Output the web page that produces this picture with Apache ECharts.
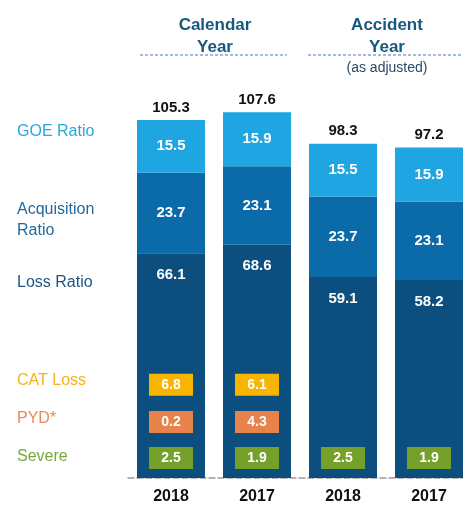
<!DOCTYPE html>
<html><head><meta charset="utf-8">
<script src="https://cdn.jsdelivr.net/npm/echarts@6/dist/echarts.min.js"></script>
<style>html,body{margin:0;padding:0;background:#fff;overflow:hidden}#c{width:472px;height:508px}</style>
</head><body><div id="c"></div>
<script>
const years = ['2018', '2017', '2018', '2017'];
const lossRatio = [66.1, 68.6, 59.1, 58.2];
const acqRatio = [23.7, 23.1, 23.7, 23.1];
const goeRatio = [15.5, 15.9, 15.5, 15.9];
const totals = [105.3, 107.6, 98.3, 97.2];
const catLoss = [6.8, 6.1, null, null];
const pyd = [0.2, 4.3, null, null];
const severe = [2.5, 1.9, 2.5, 1.9];

const FONT = 'Liberation Sans';
const chart = echarts.init(document.getElementById('c'), null, {renderer: 'canvas'});

function boxSeries(name, vals, rowY, color) {
  return {
    name, type: 'scatter', symbol: 'rect', symbolSize: [44, 22],
    itemStyle: {color: color, opacity: 1},
    z: 5,
    data: vals.map((v, i) => v == null ? null : [i, rowY, v]).filter(d => d),
    label: {show: true, position: 'inside', color: '#fff', fontWeight: 'bold', fontSize: 14, fontFamily: FONT,
      formatter: p => p.value[2].toFixed(1)}
  };
}
const segLabel = {show: true, color: '#fff', fontWeight: 'bold', fontSize: 15, fontFamily: FONT, formatter: p => p.value.toFixed(1)};
function leftLabel(text, y, color) {
  return {type: 'text', x: 17, y: y, style: {text, fill: color, font: '16px ' + FONT, verticalAlign: 'middle', lineHeight: 21}};
}

chart.setOption({
  animation: false,
  grid: {left: 128, right: 0, top: 70, bottom: 30},
  xAxis: {
    type: 'category', data: years,
    axisLine: {lineStyle: {color: '#9a9a9a', type: 'dashed', width: 1.5}},
    axisTick: {show: false},
    axisLabel: {color: '#111', fontWeight: 'bold', fontSize: 16, fontFamily: FONT, margin: 11}
  },
  yAxis: {type: 'value', min: 0, max: 120, show: false, splitLine: {show: false}},
  series: [
    {name: 'Loss Ratio', type: 'bar', stack: 't', barWidth: 68, data: lossRatio,
      itemStyle: {color: '#0c4f7f'}, label: Object.assign({position: 'insideTop', distance: 14}, segLabel)},
    {name: 'Acquisition Ratio', type: 'bar', stack: 't', data: acqRatio,
      itemStyle: {color: '#0b6aa8'}, label: Object.assign({position: 'inside'}, segLabel)},
    {name: 'GOE Ratio', type: 'bar', stack: 't', data: goeRatio,
      itemStyle: {color: '#1ea5e2'}, label: Object.assign({position: 'inside'}, segLabel)},
    {name: 'Total', type: 'bar', stack: 't', data: totals.map(() => 0),
      itemStyle: {color: 'transparent'},
      label: {show: true, position: 'top', distance: 5, color: '#111', fontWeight: 'bold', fontSize: 15, fontFamily: FONT,
        formatter: p => totals[p.dataIndex].toFixed(1)}},
    boxSeries('CAT Loss', catLoss, 27.4, '#f7b500'),
    boxSeries('PYD*', pyd, 16.5, '#e8834b'),
    boxSeries('Severe', severe, 5.9, '#75a12b')
  ],
  graphic: [
    leftLabel('GOE Ratio', 132, '#2aa6df'),
    leftLabel('Acquisition\nRatio', 220, '#1f6a9f'),
    leftLabel('Loss Ratio', 283, '#1c5584'),
    leftLabel('CAT Loss', 381, '#f5b21c'),
    leftLabel('PYD*', 419, '#e98a5a'),
    leftLabel('Severe', 457, '#78a63a'),
    {type: 'text', x: 215, y: 36, style: {text: 'Calendar\nYear', fill: '#17587f', font: 'bold 17px ' + FONT, align: 'center', verticalAlign: 'middle', lineHeight: 22}},
    {type: 'text', x: 387, y: 36, style: {text: 'Accident\nYear', fill: '#17587f', font: 'bold 17px ' + FONT, align: 'center', verticalAlign: 'middle', lineHeight: 22}},
    {type: 'text', x: 387, y: 68, style: {text: '(as adjusted)', fill: '#2a4a66', font: '14px ' + FONT, align: 'center', verticalAlign: 'middle'}},
    {type: 'line', shape: {x1: 140, y1: 55, x2: 287, y2: 55}, style: {stroke: '#4a78c4', lineWidth: 1.2, lineDash: [3, 2]}},
    {type: 'line', shape: {x1: 308, y1: 55, x2: 463, y2: 55}, style: {stroke: '#4a78c4', lineWidth: 1.2, lineDash: [3, 2]}}
  ]
});
</script></body></html>
